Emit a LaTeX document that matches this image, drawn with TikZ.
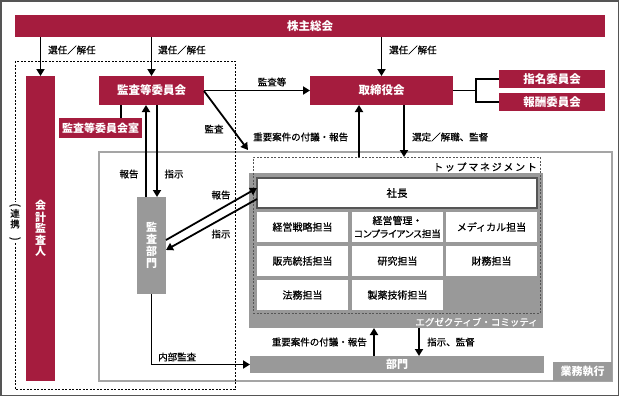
\documentclass[tikz,border=0pt]{standalone}
\usepackage{fontspec}
\setmainfont{Noto Sans CJK JP}
\newfontfamily\jpm{Noto Sans CJK JP}[FakeBold=0.6]
\usetikzlibrary{arrows.meta,calc}
\definecolor{crim}{RGB}{165,28,62}
\definecolor{gbox}{RGB}{153,153,153}
\definecolor{gline}{RGB}{165,165,165}
\definecolor{frm}{RGB}{85,85,85}
\newcommand{\ks}{\hspace{1.7pt}}
\begin{document}
\begin{tikzpicture}[x=1pt,y=-1pt,
 rbox/.style={fill=crim, text=white, inner sep=0pt, outer sep=0pt, font=\fontsize{11.5}{13}\selectfont\bfseries},
 gboxs/.style={fill=gbox, text=white, inner sep=0pt, outer sep=0pt, font=\fontsize{11}{12}\selectfont\bfseries},
 cell/.style={fill=white, inner sep=0pt, outer sep=0pt, minimum width=91pt, minimum height=30pt, font=\jpm\fontsize{10}{11}\selectfont},
 lbl/.style={font=\jpm\fontsize{9.5}{11}\selectfont, inner sep=0pt},
 arr/.style={line width=1.8pt, -{Triangle[length=7pt,width=8pt]}},
 conn/.style={line width=1.8pt},
 dsh/.style={line width=0.8pt, dash pattern=on 2pt off 1.5pt},
]
\useasboundingbox (0,0) rectangle (620,397);
\draw[frm, line width=1.5pt] (0.75,0.75) rectangle (618.5,395.5);

% business execution frame
\draw[gline, line width=1.5pt] (99,152) rectangle (612,381);
\node[gboxs, minimum width=59pt, minimum height=19pt] (gyomu) at (582.5,371.5) {業務執行};

% audit committee dashed group
\draw[dsh] (15,61) rectangle (235,389);

% shareholders
\node[rbox, minimum width=590pt, minimum height=22pt] (kabu) at (310,26) {株主総会};
\node[rbox, minimum width=29pt, minimum height=305pt, align=center, font=\fontsize{11}{11.5}\selectfont\bfseries] (kaikei) at (40.5,228.5) {会\\計\\監\\査\\人};
\node[rbox, minimum width=105pt, minimum height=29pt] (kansa) at (151.5,90.5) {監査等委員会};
\node[rbox, minimum width=83pt, minimum height=20pt, font=\fontsize{11}{12}\selectfont\bfseries] (kshitsu) at (100.5,128) {監査等委員会室};
\node[rbox, minimum width=143pt, minimum height=29pt] (tori) at (381.5,90.5) {取締役会};
\node[rbox, minimum width=106pt, minimum height=18pt] (shimei) at (552,79) {指名委員会};
\node[rbox, minimum width=106pt, minimum height=18pt] (housh) at (552,102) {報酬委員会};

% renkei
\node[fill=white, inner sep=1pt, align=center, font=\jpm\fontsize{9.5}{10.5}\selectfont] (renkei) at (15,222) {\rotatebox{-90}{\fontsize{11}{11}\selectfont(}\\[1pt]連\\携\\[-1pt]\rotatebox{-90}{\fontsize{11}{11}\selectfont)}};

% executive committee
\node[fill=gbox, inner sep=0pt, outer sep=0pt, minimum width=294pt, minimum height=155pt] (exec) at (396,250.5) {};
\node[draw=frm, line width=1.5pt, fill=white, inner sep=0pt, outer sep=0pt, minimum width=280pt, minimum height=30pt, font=\jpm\fontsize{10.5}{12}\selectfont] (shacho) at (397,193) {社長};
\node[cell] (c11) at (302.5,227) {経営戦略担当};
\node[cell, align=center, font=\jpm\fontsize{10}{13}\selectfont] (c12) at (397.5,227) {経営管理・\\{\addfontfeature{CharacterWidth=AlternateProportional}\fontsize{9.5}{10}\selectfont コンプライアンス担当}};
\node[cell] (c13) at (491.5,227) {メディカル担当};
\node[cell] (c21) at (302.5,261) {販売統括担当};
\node[cell] (c22) at (397.5,261) {研究担当};
\node[cell] (c23) at (491.5,261) {財務担当};
\node[cell] (c31) at (302.5,295) {法務担当};
\node[cell] (c32) at (397.5,295) {製薬技術担当};
\node[draw=frm, dsh, inner sep=0pt, outer sep=0pt, minimum width=287pt, minimum height=156pt] (topm) at (396.5,235) {};
\node[lbl, anchor=east, font=\jpm\fontsize{10}{11}\selectfont] (toplbl) at (537,167) {ト\ks ッ\ks プ\ks マ\ks ネ\ks ジ\ks メ\ks ン\ks ト};
\node[lbl, anchor=east, text=white] (execlbl) at (538,322) {エグゼクティブ・コミッティ};

\node[gboxs, minimum width=294pt, minimum height=17pt] (bumon) at (397,364.5) {部門};
\node[gboxs, minimum width=29pt, minimum height=97pt, align=center, font=\fontsize{11}{11.8}\selectfont\bfseries] (kbumon) at (151.5,245.5) {監\\査\\部\\門};

% arrows from shareholders
\draw[arr] (kabu.south -| kaikei) -- (kaikei.north);
\draw[arr] (kabu.south -| kansa) -- (kansa.north);
\draw[arr] (kabu.south -| tori) -- (tori.north);
\node[lbl, anchor=west] (l1) at (48,50) {選任／解任};
\node[lbl, anchor=west] (l2) at (158,50) {選任／解任};
\node[lbl, anchor=west] (l3) at (389,50) {選任／解任};

% committee connections
\coordinate (br) at (476,90.5);
\draw[conn] (tori.east) -- (br);
\draw[conn] (shimei.west) -| (br) |- (housh.west);
\coordinate (xs) at (121,0);
\draw[line width=1.8pt] (xs |- kansa.south) -- (xs |- kshitsu.north);

\draw[arr] (kansa.east) -- (tori.west);
\node[lbl] (lkt) at (272,82) {監査等};
\coordinate (kend) at (248,150);
\draw[arr] ([yshift=-0.5pt]kansa.east) -- (kend);
\node[lbl] (lk) at (214,129) {監査};

\coordinate (xu) at (359,0);
\coordinate (xd) at (404,0);
\draw[arr] (xu |- topm.north) -- (xu |- tori.south);
\draw[arr] (xd |- tori.south) -- (xd |- topm.north);
\node[lbl, anchor=west] (lj1) at (253,137) {重要案件の付議・報告};
\node[lbl, anchor=west] (lsen) at (412,137) {選定／解職、監督};

% audit dept
\coordinate (xa) at (146,0);
\coordinate (xb) at (157,0);
\draw[arr] (xa |- kbumon.north) -- (xa |- kansa.south);
\draw[arr] (xb |- kansa.south) -- (xb |- kbumon.north);
\node[lbl] (lh1) at (129,174) {報告};
\node[lbl] (ls1) at (174,174) {指示};

\draw[arr] ([yshift=5.5pt]kbumon.east) -- ([yshift=5pt]shacho.west);
\draw[arr] ([yshift=-6pt]shacho.west) -- ([yshift=-4.5pt]kbumon.east);
\node[lbl] (lh2) at (221,195) {報告};
\node[lbl] (ls2) at (221,234) {指示};

\draw[arr] (kbumon.south) |- (bumon.west);
\node[lbl, anchor=west] (lnb) at (158,357) {内部監査};

\coordinate (xe) at (374,0);
\coordinate (xf) at (419,0);
\draw[arr] (xe |- bumon.north) -- (xe |- exec.south);
\draw[arr] (xf |- exec.south) -- (xf |- bumon.north);
\node[lbl, anchor=east] (lj2) at (367,342) {重要案件の付議・報告};
\node[lbl, anchor=west] (lsk) at (427,342) {指示、監督};
\end{tikzpicture}
\end{document}
